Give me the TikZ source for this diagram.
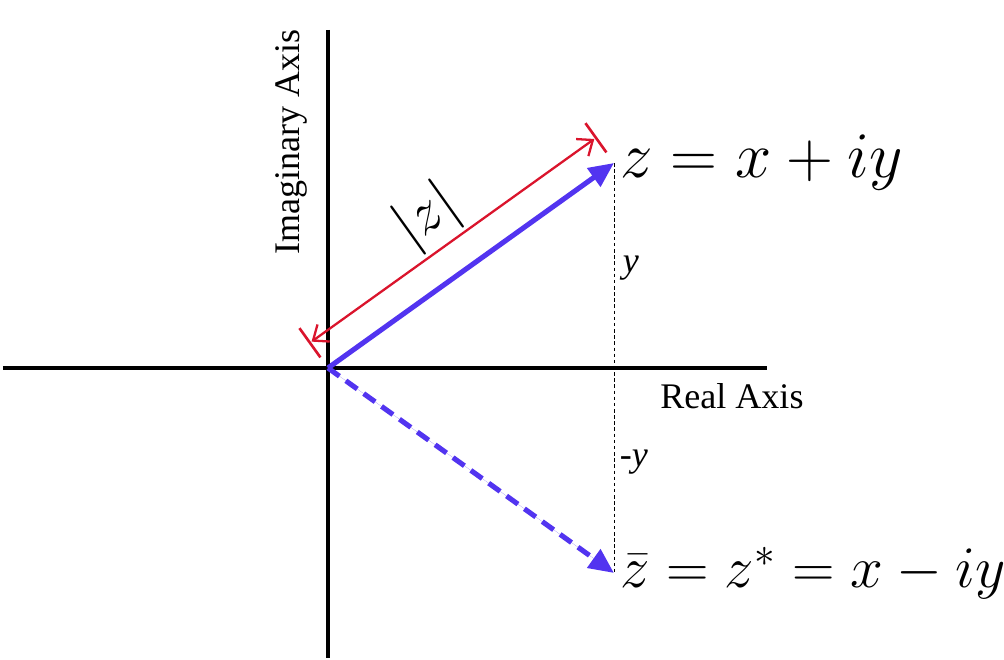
\documentclass[tikz,border=0pt]{standalone}
\usepackage{fix-cm}
\usepackage{fontspec}
\setmainfont{Liberation Serif}
\usetikzlibrary{arrows.meta,calc}

\definecolor{vblue}{RGB}{82,52,240}
\definecolor{mred}{RGB}{218,20,44}

\begin{document}
\begin{tikzpicture}[
    axisline/.style={line width=2pt},
    vec/.style={line width=2.9pt, draw=vblue, fill=vblue, -{Triangle[length=0.5cm, width=0.44cm]}},
    cvec/.style={vec, dash pattern=on 8pt off 4.5pt},
    modarr/.style={line width=1.3pt, draw=mred, {Straight Barb[length=0.26cm, width=0.42cm]}-{Straight Barb[length=0.26cm, width=0.42cm]}},
    modbar/.style={line width=1.5pt, draw=mred},
    drop/.style={line width=0.5pt, dash pattern=on 2pt off 1.5pt},
    lbl/.style={font=\fontsize{20.5}{24}\selectfont, inner sep=0pt},
    mlbl/.style={inner sep=1.2mm, anchor=west}
]
\useasboundingbox (-6.56,-5.84) rectangle (13.52,7.36);

% axes
\coordinate (O) at (0,0);
\coordinate (xl) at (-6.5,0);
\coordinate (xr) at (8.78,0);
\coordinate (yt) at (0,6.76);
\coordinate (yb) at (0,-5.8);
\draw[axisline] (xl) -- (xr);
\draw[axisline] (yt) -- (yb);
\node[lbl, rotate=90] (imag) at (-0.74,4.52) {Imaginary Axis};
\node[lbl] (real) at (8.08,-0.56) {Real Axis};

% z and its conjugate
\coordinate (Z) at (5.72,4.1);
\coordinate (Zc) at (5.72,-4.1);
\draw[drop] (Z) -- (Zc);
\node[lbl] (ly) at (6.06,2.0) {\textit{y}};
\node[lbl] (lmy) at (6.12,-1.88) {-\textit{y}};

\draw[vec] (O) -- (Z);
\draw[cvec] (O) -- (Zc);
\node[mlbl, font=\fontsize{37}{41}\selectfont] (zlab) at (Z) {$z=x+iy$};
\node[mlbl, font=\fontsize{33.5}{37}\selectfont] (zclab) at (Zc) {$\bar{z}=z^{*}=x-iy$};

% modulus
\coordinate (ma) at ($(O)!0.62cm!90:(Z)$);
\coordinate (mb) at ($(Z)!0.62cm!-90:(O)$);
\draw[modarr] ($(ma)!0.04cm!(mb)$) -- ($(mb)!0.04cm!(ma)$);
\draw[modbar] ($(ma)!0.36cm!90:(mb)$) -- ($(ma)!0.36cm!-90:(mb)$);
\draw[modbar] ($(mb)!0.36cm!90:(ma)$) -- ($(mb)!0.36cm!-90:(ma)$);
\node[font=\fontsize{34}{38}\selectfont, rotate=35.6] (mod) at ($(O)!0.48!(Z)!1.3cm!90:(Z)$) {$|z|$};
\end{tikzpicture}
\end{document}
